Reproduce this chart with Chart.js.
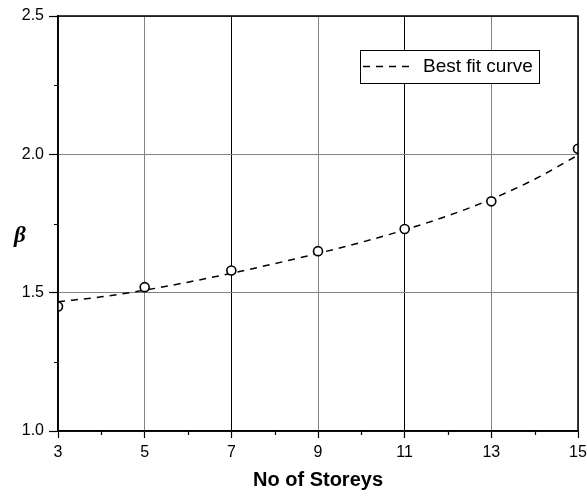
<!DOCTYPE html>
<html>
<head>
<meta charset="utf-8">
<script src="https://cdn.jsdelivr.net/npm/chart.js@4"></script>
<style>
  html, body { margin: 0; padding: 0; background: #fff; }
  #wrap { position: relative; width: 587px; height: 497px; }
</style>
</head>
<body>
<div id="wrap"><canvas id="betaChart" width="587" height="497"></canvas></div>
<script>
// measured beta for each building height
const storeys = [3, 5, 7, 9, 11, 13, 15];
const beta = [1.45, 1.52, 1.58, 1.65, 1.73, 1.83, 2.02];

// best fit curve, read at every storey
const fitStoreys = [3, 4, 5, 6, 7, 8, 9, 10, 11, 12, 13, 14, 15];
const fitBeta = [1.467, 1.485, 1.509, 1.538, 1.570, 1.605, 1.642, 1.682, 1.727, 1.778, 1.838, 1.910, 1.997];

const xTicks = [3, 5, 7, 9, 11, 13, 15];
const yTicks = [1.0, 1.5, 2.0, 2.5];

const FONT = "'Liberation Sans', Arial, sans-serif";
const GRAY = 'rgb(130,130,130)';

// frame, minor ticks, legend box and the beta label
const extras = {
  id: 'extras',
  afterDatasetsDraw(chart) {
    const { ctx, chartArea: a, scales: { x, y } } = chart;
    ctx.save();
    ctx.strokeStyle = '#000';
    ctx.lineWidth = 1.5;
    ctx.strokeRect(a.left, a.top, a.right - a.left, a.bottom - a.top);

    ctx.lineWidth = 1.2;
    ctx.beginPath();
    for (let i = 0; i < xTicks.length - 1; i++) {
      const px = Math.round(x.getPixelForValue((xTicks[i] + xTicks[i + 1]) / 2)) + 0.5;
      ctx.moveTo(px, a.bottom);
      ctx.lineTo(px, a.bottom + 4);
    }
    for (let i = 0; i < yTicks.length - 1; i++) {
      const py = Math.round(y.getPixelForValue((yTicks[i] + yTicks[i + 1]) / 2)) + 0.5;
      ctx.moveTo(a.left - 4, py);
      ctx.lineTo(a.left, py);
    }
    ctx.stroke();

    // legend
    const ds = chart.data.datasets[1];
    const lx = a.right - 218, ly = a.top + 34;
    ctx.fillStyle = '#fff';
    ctx.fillRect(lx, ly, 179, 33);
    ctx.lineWidth = 1;
    ctx.strokeRect(lx + 0.5, ly + 0.5, 179, 33);
    ctx.setLineDash(ds.borderDash);
    ctx.lineWidth = ds.borderWidth;
    ctx.beginPath();
    ctx.moveTo(lx + 3, ly + 16.5);
    ctx.lineTo(lx + 54, ly + 16.5);
    ctx.stroke();
    ctx.setLineDash([]);
    ctx.fillStyle = '#000';
    ctx.font = '19px ' + FONT;
    ctx.textBaseline = 'middle';
    ctx.fillText(ds.label, lx + 63, ly + 17);

    ctx.font = "bold italic 23px 'Liberation Serif', 'DejaVu Serif', serif";
    ctx.textAlign = 'center';
    ctx.fillText('β', 20, 236);
    ctx.restore();
  }
};

new Chart(document.getElementById('betaChart'), {
  type: 'line',
  data: {
    datasets: [
      {
        label: 'Beta',
        data: storeys.map((s, i) => ({ x: s, y: beta[i] })),
        showLine: false,
        pointStyle: 'circle',
        pointRadius: 4.5,
        pointBorderWidth: 1.6,
        pointBackgroundColor: '#fff',
        pointBorderColor: '#000',
        clip: 0
      },
      {
        label: 'Best fit curve',
        data: fitStoreys.map((s, i) => ({ x: s, y: fitBeta[i] })),
        borderColor: '#000',
        borderWidth: 1.5,
        borderDash: [7, 6],
        pointRadius: 0,
        fill: false,
        cubicInterpolationMode: 'monotone',
        clip: 0
      }
    ]
  },
  options: {
    responsive: false,
    animation: false,
    events: [],
    layout: { padding: { top: 16, right: 0, left: 0, bottom: 0 } },
    plugins: { legend: { display: false }, tooltip: { enabled: false } },
    scales: {
      x: {
        type: 'linear',
        min: 3,
        max: 15,
        afterBuildTicks: s => { s.ticks = xTicks.map(v => ({ value: v })); },
        afterFit: s => { s.height = 66; s.paddingRight = 9; s.paddingLeft = 0; },
        ticks: { color: '#000', font: { family: FONT, size: 16 }, padding: 5, maxRotation: 0 },
        grid: {
          color: c => (c.tick && (c.tick.value === 7 || c.tick.value === 11)) ? '#000' : GRAY,
          lineWidth: 1,
          tickLength: 7,
          tickColor: '#000',
          tickWidth: 1.2
        },
        border: { color: '#000', width: 1.5 },
        title: {
          display: true,
          text: 'No of Storeys',
          color: '#000',
          font: { family: FONT, size: 20, weight: 'bold' },
          padding: { top: 0, bottom: 5 }
        }
      },
      y: {
        min: 1,
        max: 2.5,
        afterBuildTicks: s => { s.ticks = yTicks.map(v => ({ value: v })); },
        afterFit: s => { s.width = 58; },
        ticks: { color: '#000', font: { family: FONT, size: 16 }, padding: 5, callback: v => v.toFixed(1) },
        grid: {
          color: GRAY,
          lineWidth: 1,
          tickLength: 9,
          tickColor: '#000',
          tickWidth: 1.2
        },
        border: { color: '#000', width: 1.5 }
      }
    }
  },
  plugins: [extras]
});
</script>
</body>
</html>
